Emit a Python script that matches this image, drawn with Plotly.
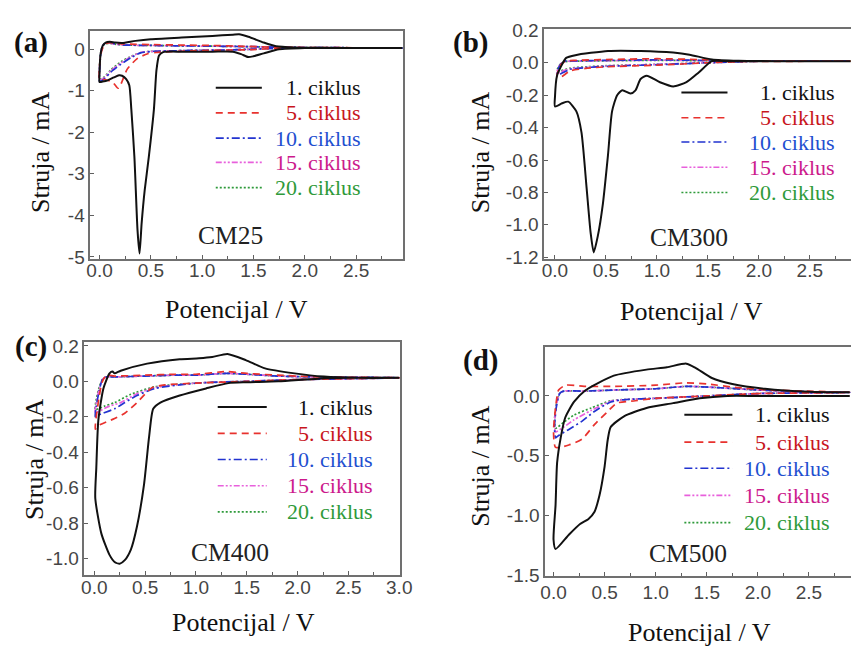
import plotly.graph_objects as go

W, H = 863, 654

# ---------------- DATA (potential V, current mA) ----------------
# Panel (a) CM25
CM25_c1_V = [2.95, 2.5, 2.0, 1.75, 1.6, 1.5, 1.45, 1.38, 1.3, 1.1, 0.8, 0.62, 0.58, 0.555, 0.53, 0.48, 0.44, 0.41, 0.39, 0.37, 0.34, 0.31, 0.29, 0.26, 0.22, 0.19, 0.14, 0.08, 0.03, 0.0,
             0.0, 0.01, 0.03, 0.06, 0.1, 0.15, 0.22, 0.35, 0.5, 0.8, 1.1, 1.3, 1.36, 1.45, 1.6, 1.72, 1.9, 2.2, 2.5, 2.95]
CM25_c1_I = [0.03, 0.03, 0.03, 0.0, -0.1, -0.17, -0.19, -0.12, -0.06, -0.06, -0.06, -0.07, -0.15, -0.5, -1.45, -2.6, -3.4, -4.2, -4.92, -4.35, -2.6, -1.45, -0.87, -0.72, -0.64, -0.63, -0.68, -0.75, -0.78, -0.79,
             -0.59, -0.13, 0.08, 0.16, 0.18, 0.16, 0.15, 0.2, 0.24, 0.28, 0.32, 0.35, 0.36, 0.3, 0.16, 0.07, 0.04, 0.03, 0.03, 0.03]
CM25_c5_V = [2.95, 2.0, 1.7, 1.5, 1.2, 0.9, 0.7, 0.55, 0.47, 0.37, 0.27, 0.21, 0.18, 0.13, 0.05, 0.02, 0.0,
             0.0, 0.02, 0.05, 0.1, 0.15, 0.3, 0.5, 0.8, 1.1, 1.4, 1.7, 2.0, 2.95]
CM25_c5_I = [0.03, 0.03, 0.02, -0.01, -0.02, -0.04, -0.06, -0.08, -0.11, -0.22, -0.48, -0.83, -0.94, -0.8, -0.73, -0.74, -0.72,
             -0.4, -0.05, 0.12, 0.16, 0.14, 0.12, 0.11, 0.1, 0.09, 0.07, 0.05, 0.04, 0.03]
CM25_c10_V = [2.95, 2.0, 1.7, 1.5, 1.2, 0.9, 0.7, 0.53, 0.4, 0.31, 0.21, 0.11, 0.05, 0.02, 0.0,
              0.0, 0.01, 0.03, 0.06, 0.1, 0.15, 0.25, 0.5, 0.8, 1.2, 1.5, 1.7, 2.0, 2.95]
CM25_c10_I = [0.03, 0.03, 0.02, 0.0, -0.02, -0.03, -0.04, -0.05, -0.09, -0.2, -0.36, -0.55, -0.71, -0.76, -0.77,
              -0.55, -0.15, 0.08, 0.15, 0.16, 0.13, 0.1, 0.09, 0.08, 0.07, 0.06, 0.05, 0.04, 0.03]
CM25_c15_V = [2.95, 2.0, 1.7, 1.5, 1.2, 0.9, 0.7, 0.53, 0.4, 0.31, 0.21, 0.11, 0.05, 0.02, 0.0,
              0.0, 0.01, 0.03, 0.06, 0.1, 0.15, 0.25, 0.5, 0.8, 1.2, 1.5, 1.7, 2.0, 2.95]
CM25_c15_I = [0.03, 0.03, 0.02, 0.0, -0.02, -0.03, -0.04, -0.05, -0.08, -0.18, -0.33, -0.52, -0.68, -0.73, -0.74,
              -0.5, -0.12, 0.08, 0.14, 0.15, 0.12, 0.1, 0.09, 0.08, 0.07, 0.06, 0.05, 0.04, 0.03]
CM25_c20_V = [2.95, 2.0, 1.7, 1.5, 1.2, 0.9, 0.7, 0.53, 0.4, 0.31, 0.21, 0.11, 0.05, 0.02, 0.0,
              0.0, 0.01, 0.03, 0.06, 0.1, 0.15, 0.25, 0.5, 0.8, 1.2, 1.5, 1.7, 2.0, 2.95]
CM25_c20_I = [0.03, 0.03, 0.02, 0.0, -0.02, -0.03, -0.04, -0.05, -0.08, -0.17, -0.3, -0.5, -0.66, -0.71, -0.72,
              -0.48, -0.1, 0.08, 0.13, 0.14, 0.12, 0.1, 0.09, 0.08, 0.07, 0.06, 0.05, 0.04, 0.03]

# Panel (b) CM300
CM300_c1_V = [2.9, 2.5, 2.0, 1.7, 1.54, 1.41, 1.29, 1.16, 1.03, 0.9, 0.84, 0.79, 0.74, 0.66, 0.61, 0.56, 0.52, 0.47, 0.42, 0.38, 0.35, 0.31, 0.26, 0.21, 0.13, 0.07, 0.0,
              0.0, 0.02, 0.07, 0.11, 0.2, 0.52, 0.84, 1.16, 1.32, 1.54, 1.8, 2.2, 2.9]
CM300_c1_I = [0.01, 0.01, 0.01, 0.01, 0.01, -0.06, -0.12, -0.146, -0.12, -0.08, -0.10, -0.17, -0.19, -0.17, -0.20, -0.30, -0.57, -0.87, -1.07, -1.17, -1.05, -0.77, -0.43, -0.30, -0.24, -0.25, -0.27,
              -0.21, -0.08, -0.01, 0.03, 0.047, 0.073, 0.073, 0.063, 0.05, 0.02, 0.012, 0.01, 0.01]
CM300_c5_V = [2.9, 2.0, 1.5, 1.0, 0.5, 0.3, 0.15, 0.08, 0.05, 0.02,
              0.03, 0.06, 0.1, 0.2, 0.5, 1.0, 1.4, 1.8, 2.9]
CM300_c5_I = [0.01, 0.01, 0.0, -0.015, -0.025, -0.035, -0.05, -0.08, -0.09, -0.09,
              -0.05, -0.01, 0.01, 0.015, 0.02, 0.025, 0.02, 0.01, 0.01]
CM300_c10_V = [2.9, 2.0, 1.5, 1.0, 0.5, 0.3, 0.15, 0.08, 0.05, 0.02,
               0.03, 0.06, 0.1, 0.2, 0.5, 1.0, 1.4, 1.8, 2.9]
CM300_c10_I = [0.01, 0.01, 0.0, -0.012, -0.022, -0.03, -0.04, -0.06, -0.07, -0.07,
               -0.04, -0.005, 0.01, 0.012, 0.015, 0.018, 0.015, 0.01, 0.01]
CM300_c15_V = [2.9, 2.0, 1.5, 1.0, 0.5, 0.3, 0.15, 0.08, 0.05, 0.02,
               0.03, 0.06, 0.1, 0.2, 0.5, 1.0, 1.4, 1.8, 2.9]
CM300_c15_I = [0.01, 0.01, 0.0, -0.01, -0.02, -0.028, -0.037, -0.05, -0.06, -0.06,
               -0.035, -0.005, 0.008, 0.01, 0.013, 0.016, 0.014, 0.01, 0.01]
CM300_c20_V = [2.9, 2.0, 1.5, 1.0, 0.5, 0.3, 0.15, 0.08, 0.05, 0.02,
               0.03, 0.06, 0.1, 0.2, 0.5, 1.0, 1.4, 1.8, 2.9]
CM300_c20_I = [0.01, 0.01, 0.0, -0.01, -0.018, -0.025, -0.033, -0.045, -0.05, -0.05,
               -0.03, -0.004, 0.007, 0.01, 0.012, 0.015, 0.013, 0.01, 0.01]

# Panel (c) CM400
CM400_c1_V = [3.0, 2.5, 2.2, 1.81, 1.5, 1.32, 1.1, 0.84, 0.65, 0.58, 0.54, 0.49, 0.42, 0.36, 0.3, 0.25, 0.2, 0.15, 0.07, 0.01,
              0.02, 0.04, 0.09, 0.15, 0.18, 0.2, 0.26, 0.52, 0.84, 1.03, 1.16, 1.31, 1.49, 1.68, 1.97, 2.26, 2.6, 3.0]
CM400_c1_I = [0.02, 0.02, 0.015, 0.0, -0.005, -0.01, -0.04, -0.08, -0.12, -0.155, -0.31, -0.58, -0.82, -0.95, -1.01, -1.03, -1.02, -0.98, -0.86, -0.66,
              -0.49, -0.22, -0.04, 0.045, 0.055, 0.045, 0.06, 0.10, 0.125, 0.13, 0.137, 0.155, 0.12, 0.073, 0.045, 0.027, 0.02, 0.02]
CM400_c5_V = [3.0, 2.0, 1.5, 1.0, 0.7, 0.57, 0.42, 0.3, 0.2, 0.04, 0.01,
              0.02, 0.05, 0.08, 0.12, 0.2, 0.5, 0.8, 1.0, 1.3, 1.5, 1.8, 2.2, 3.0]
CM400_c5_I = [0.02, 0.01, 0.0, -0.01, -0.02, -0.035, -0.12, -0.18, -0.21, -0.25, -0.27,
              -0.2, -0.08, 0.0, 0.035, 0.03, 0.035, 0.04, 0.04, 0.055, 0.045, 0.035, 0.025, 0.02]
CM400_c10_V = [3.0, 2.0, 1.5, 1.0, 0.6, 0.42, 0.3, 0.2, 0.04, 0.01,
               0.02, 0.05, 0.08, 0.12, 0.2, 0.5, 0.8, 1.0, 1.3, 1.5, 1.8, 2.2, 3.0]
CM400_c10_I = [0.02, 0.01, 0.0, -0.01, -0.04, -0.08, -0.12, -0.155, -0.19, -0.2,
               -0.14, -0.05, 0.01, 0.025, 0.025, 0.03, 0.035, 0.035, 0.045, 0.04, 0.03, 0.025, 0.02]
CM400_c15_V = [3.0, 2.0, 1.5, 1.0, 0.6, 0.42, 0.26, 0.15, 0.04, 0.01,
               0.02, 0.05, 0.08, 0.12, 0.2, 0.5, 0.8, 1.0, 1.3, 1.5, 1.8, 2.2, 3.0]
CM400_c15_I = [0.02, 0.01, 0.0, -0.01, -0.035, -0.07, -0.12, -0.14, -0.17, -0.175,
               -0.12, -0.04, 0.01, 0.025, 0.025, 0.03, 0.035, 0.035, 0.045, 0.04, 0.03, 0.025, 0.02]
CM400_c20_V = [3.0, 2.0, 1.5, 1.0, 0.6, 0.36, 0.2, 0.1, 0.04, 0.01,
               0.02, 0.05, 0.08, 0.12, 0.2, 0.5, 0.8, 1.0, 1.3, 1.5, 1.8, 2.2, 3.0]
CM400_c20_I = [0.02, 0.01, 0.0, -0.01, -0.03, -0.073, -0.12, -0.14, -0.155, -0.16,
               -0.1, -0.03, 0.01, 0.025, 0.025, 0.03, 0.035, 0.035, 0.045, 0.04, 0.03, 0.025, 0.02]

# Panel (d) CM500
CM500_c1_V = [2.9, 2.5, 2.0, 1.7, 1.43, 1.17, 0.91, 0.69, 0.56, 0.53, 0.5, 0.45, 0.4, 0.34, 0.26, 0.15, 0.02,
              0.0, 0.02, 0.035, 0.07, 0.115, 0.2, 0.31, 0.44, 0.59, 0.91, 1.11, 1.3, 1.39, 1.55, 1.75, 2.07, 2.5, 2.9]
CM500_c1_I = [0.0, 0.0, 0.0, 0.0, -0.02, -0.06, -0.10, -0.17, -0.26, -0.37, -0.59, -0.83, -0.97, -1.03, -1.07, -1.16, -1.28,
              -1.2, -0.91, -0.56, -0.35, -0.18, -0.05, 0.046, 0.11, 0.17, 0.22, 0.24, 0.27, 0.235, 0.15, 0.10, 0.06, 0.035, 0.03]
CM500_c5_V = [2.9, 2.0, 1.5, 1.0, 0.8, 0.62, 0.53, 0.4, 0.28, 0.15, 0.02,
              0.0, 0.02, 0.05, 0.12, 0.3, 0.6, 1.0, 1.3, 1.5, 1.8, 2.1, 2.5, 2.9]
CM500_c5_I = [0.03, 0.02, 0.0, -0.02, -0.04, -0.06, -0.13, -0.24, -0.36, -0.41, -0.43,
              -0.3, -0.1, 0.05, 0.09, 0.08, 0.08, 0.09, 0.11, 0.1, 0.07, 0.05, 0.04, 0.03]
CM500_c10_V = [2.9, 2.0, 1.5, 1.0, 0.7, 0.56, 0.4, 0.28, 0.15, 0.05, 0.02,
               0.01, 0.03, 0.06, 0.1, 0.3, 0.6, 1.0, 1.3, 1.6, 2.0, 2.5, 2.9]
CM500_c10_I = [0.03, 0.02, 0.0, -0.02, -0.03, -0.05, -0.13, -0.21, -0.28, -0.33, -0.35,
               -0.25, -0.08, 0.02, 0.04, 0.04, 0.05, 0.06, 0.08, 0.07, 0.05, 0.035, 0.03]
CM500_c15_V = [2.9, 2.0, 1.5, 1.0, 0.7, 0.56, 0.37, 0.2, 0.1, 0.02,
               0.01, 0.03, 0.06, 0.1, 0.3, 0.6, 1.0, 1.3, 1.6, 2.0, 2.5, 2.9]
CM500_c15_I = [0.03, 0.02, 0.0, -0.02, -0.03, -0.045, -0.12, -0.2, -0.26, -0.3,
               -0.22, -0.07, 0.02, 0.04, 0.04, 0.05, 0.06, 0.08, 0.07, 0.05, 0.035, 0.03]
CM500_c20_V = [2.9, 2.0, 1.5, 1.0, 0.7, 0.56, 0.37, 0.2, 0.1, 0.02,
               0.01, 0.03, 0.06, 0.1, 0.3, 0.6, 1.0, 1.3, 1.6, 2.0, 2.5, 2.9]
CM500_c20_I = [0.03, 0.02, 0.0, -0.02, -0.03, -0.04, -0.1, -0.16, -0.22, -0.27,
               -0.2, -0.06, 0.02, 0.04, 0.04, 0.05, 0.06, 0.08, 0.07, 0.05, 0.035, 0.03]

CYCLE_NAMES = ["1. ciklus", "5. ciklus", "10. ciklus", "15. ciklus", "20. ciklus"]
SAMPLES = ["CM25", "CM300", "CM400", "CM500"]
PANEL_LETTERS = ["(a)", "(b)", "(c)", "(d)"]

X_TICKS_A = [0.0, 0.5, 1.0, 1.5, 2.0, 2.5]
X_TICKTEXT_A = ["0.0", "0.5", "1.0", "1.5", "2.0", "2.5"]
X_TICKS_C = [0.0, 0.5, 1.0, 1.5, 2.0, 2.5, 3.0]
X_TICKTEXT_C = ["0.0", "0.5", "1.0", "1.5", "2.0", "2.5", "3.0"]
Y_TICKS_A = [0, -1, -2, -3, -4, -5]
Y_TICKTEXT_A = ["0", "-1", "-2", "-3", "-4", "-5"]
Y_TICKS_B = [0.2, 0.0, -0.2, -0.4, -0.6, -0.8, -1.0, -1.2]
Y_TICKTEXT_B = ["0.2", "0.0", "-0.2", "-0.4", "-0.6", "-0.8", "-1.0", "-1.2"]
Y_TICKS_C = [0.2, 0.0, -0.2, -0.4, -0.6, -0.8, -1.0]
Y_TICKTEXT_C = ["0.2", "0.0", "-0.2", "-0.4", "-0.6", "-0.8", "-1.0"]
Y_TICKS_D = [0.0, -0.5, -1.0, -1.5]
Y_TICKTEXT_D = ["0.0", "-0.5", "-1.0", "-1.5"]

X_TITLE = "Potencijal / V"
Y_TITLE = "Struja / mA"

# ---------------- STYLE ----------------
LINE_COLORS = ["#111111", "#e8322e", "#2233d0", "#e860dc", "#2e9a3a"]
TEXT_COLORS = ["#111111", "#c8161d", "#1f4fd0", "#cc1a8c", "#2f9a3a"]
DASHES = ["solid", "7px,5px", "8px,3px,2px,3px", "6px,2px,2px,2px,2px,2px", "2px,2px"]
WIDTHS = [2.0, 1.7, 1.7, 1.7, 1.7]
SERIF = "Liberation Serif, Times New Roman, serif"
SANS = "Liberation Sans, Arial, sans-serif"

def px(x):
    return x / W

def py(y):
    return 1 - y / H

panel_curves = [
    [(CM25_c1_V, CM25_c1_I), (CM25_c5_V, CM25_c5_I), (CM25_c10_V, CM25_c10_I), (CM25_c15_V, CM25_c15_I), (CM25_c20_V, CM25_c20_I)],
    [(CM300_c1_V, CM300_c1_I), (CM300_c5_V, CM300_c5_I), (CM300_c10_V, CM300_c10_I), (CM300_c15_V, CM300_c15_I), (CM300_c20_V, CM300_c20_I)],
    [(CM400_c1_V, CM400_c1_I), (CM400_c5_V, CM400_c5_I), (CM400_c10_V, CM400_c10_I), (CM400_c15_V, CM400_c15_I), (CM400_c20_V, CM400_c20_I)],
    [(CM500_c1_V, CM500_c1_I), (CM500_c5_V, CM500_c5_I), (CM500_c10_V, CM500_c10_I), (CM500_c15_V, CM500_c15_I), (CM500_c20_V, CM500_c20_I)],
]

# plot-area pixel boxes (left, top, right, bottom) and ranges
boxes = [(87, 23, 406, 257), (550, 21, 863, 257), (81, 343, 403, 583), (551, 348, 863, 584)]
xranges = [[-0.09, 2.957], [-0.106, 2.904], [-0.097, 3.008], [-0.082, 2.912]]
yranges = [[-5.04, 0.43], [-1.208, 0.206], [-1.094, 0.222], [-1.505, 0.41]]
xticks = [(X_TICKS_A, X_TICKTEXT_A), (X_TICKS_A, X_TICKTEXT_A), (X_TICKS_C, X_TICKTEXT_C), (X_TICKS_A, X_TICKTEXT_A)]
yticks = [(Y_TICKS_A, Y_TICKTEXT_A), (Y_TICKS_B, Y_TICKTEXT_B), (Y_TICKS_C, Y_TICKTEXT_C), (Y_TICKS_D, Y_TICKTEXT_D)]
right_visible = [True, False, True, False]
xlabel_shift = [-6, -6, -6, -2]

legend_pos = [  # sample x0, x1, text right, row ys
    (215, 262, 364, [81, 107, 133, 158, 184]),
    (690, 737, 848, [86, 112, 137, 163, 189]),
    (217, 267, 376, [410, 437, 464, 491, 518]),
    (693, 742, 843, [418, 446, 473, 501, 529]),
]
sample_pos = [(230, 233), (698, 235), (230, 560), (697, 561)]
letter_pos = [(27, 34), (475, 34), (27, 348), (485, 362)]
ytitle_pos = [(36, 147), (485, 147), (30, 463), (485, 470)]
xtitle_pos = [(236, 310), (700, 312), (243, 632), (708, 642)]

fig = go.Figure()
layout = dict(width=W, height=H, margin=dict(l=0, r=0, t=0, b=0),
              paper_bgcolor="white", plot_bgcolor="white", showlegend=False)
annotations = []
shapes = []

for p in range(4):
    sfx = "" if p == 0 else str(p + 1)
    xa, ya = "x" + sfx, "y" + sfx
    curves = panel_curves[p]
    for k in [4, 3, 2, 1, 0]:
        V, I = curves[k]
        fig.add_trace(go.Scatter(
            x=V, y=I, mode="lines", name=CYCLE_NAMES[k], xaxis=xa, yaxis=ya,
            line=dict(color=LINE_COLORS[k], width=WIDTHS[k], dash=DASHES[k], shape="spline", smoothing=0.6),
            showlegend=False))
    l, t, r, b = boxes[p]
    common = dict(showline=True, linecolor="#707070", linewidth=1.5, showgrid=False, zeroline=False,
                  ticks="inside", ticklen=4, tickwidth=1, tickcolor="#606060",
                  tickfont=dict(family=SANS, size=19, color="#454545"), tickmode="array")
    layout["xaxis" + sfx] = dict(common, domain=[px(l), px(r)], range=xranges[p], anchor=ya,
                                 tickvals=xticks[p][0], ticktext=xticks[p][1], mirror=True,
                                 ticklabelstandoff=xlabel_shift[p],
                                 minor=dict(ticks="inside", ticklen=3, dtick=0.25, tick0=0, tickcolor="#606060", showgrid=False))
    layout["yaxis" + sfx] = dict(common, domain=[py(b), py(t)], range=yranges[p], anchor=xa,
                                 tickvals=yticks[p][0], ticktext=yticks[p][1], mirror=right_visible[p])
    # legend drawn as line samples + coloured right-aligned labels
    x0, x1, xr, rows = legend_pos[p]
    for k in range(5):
        shapes.append(dict(type="line", xref="paper", yref="paper", x0=px(x0), x1=px(x1), y0=py(rows[k]), y1=py(rows[k]),
                           line=dict(color=LINE_COLORS[k], width=WIDTHS[k], dash=DASHES[k])))
        annotations.append(dict(xref="paper", yref="paper", x=px(xr), y=py(rows[k]), xanchor="right", yanchor="middle",
                                text=CYCLE_NAMES[k], showarrow=False, borderpad=0,
                                font=dict(family=SERIF, size=22, color=TEXT_COLORS[k])))
    sx, sy = sample_pos[p]
    annotations.append(dict(xref="paper", yref="paper", x=px(sx), y=py(sy), xanchor="center", yanchor="middle",
                            text=SAMPLES[p], showarrow=False, font=dict(family=SERIF, size=25.5, color="#222222")))
    lx, ly = letter_pos[p]
    annotations.append(dict(xref="paper", yref="paper", x=px(lx), y=py(ly), xanchor="center", yanchor="middle",
                            text="<b>" + PANEL_LETTERS[p] + "</b>", showarrow=False,
                            font=dict(family=SERIF, size=29, color="#111111")))
    tx, ty = ytitle_pos[p]
    annotations.append(dict(xref="paper", yref="paper", x=px(tx), y=py(ty), xanchor="center", yanchor="middle",
                            text=Y_TITLE, textangle=-90, showarrow=False,
                            font=dict(family=SERIF, size=26, color="#111111")))
    tx, ty = xtitle_pos[p]
    annotations.append(dict(xref="paper", yref="paper", x=px(tx), y=py(ty), xanchor="center", yanchor="middle",
                            text=X_TITLE, showarrow=False,
                            font=dict(family=SERIF, size=26, color="#111111")))

layout["annotations"] = annotations
layout["shapes"] = shapes
fig.update_layout(**layout)
fig.write_html("out.html", config={"displayModeBar": False},
               post_script="document.body.style.margin='0';document.body.style.overflow='hidden';")
